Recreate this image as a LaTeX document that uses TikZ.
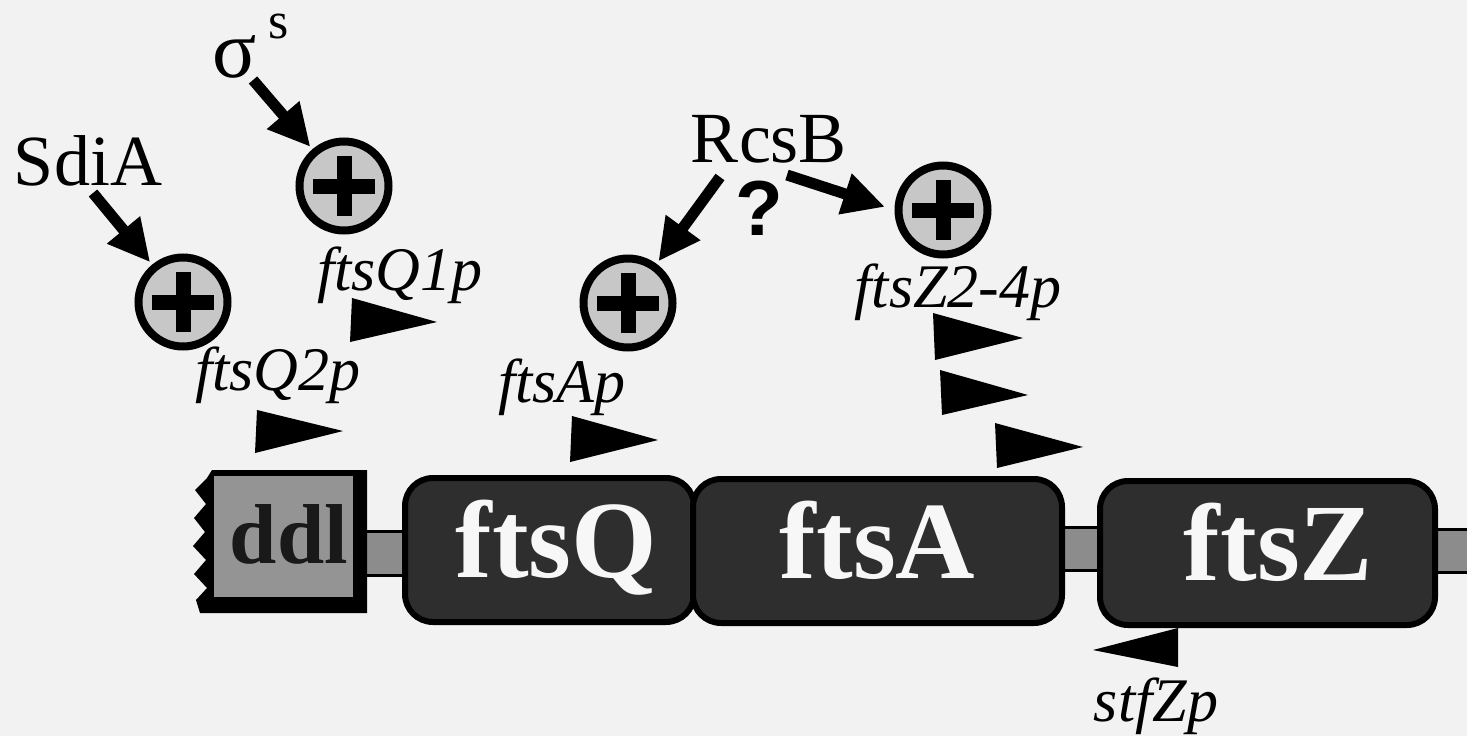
\documentclass[tikz,border=0pt]{standalone}
\usepackage{fontspec}
\setmainfont{Liberation Serif}
\newfontfamily\qsans{Liberation Sans}
\usetikzlibrary{arrows.meta}
\tikzset{
  lab/.style={font=\fontsize{72}{80}\selectfont, inner sep=0pt, anchor=base},
  prom/.style={font=\itshape\fontsize{62}{70}\selectfont, inner sep=0pt, anchor=base},
  gene/.style={draw=black, line width=6pt, fill=black!82, rounded corners=28pt,
    text=black!3, font=\bfseries\fontsize{110}{112}\selectfont,
    minimum height=144pt, text height=76pt, text depth=22pt, inner sep=0pt},
  pluscirc/.style={circle, draw=black, line width=8pt, fill=black!22,
    minimum size=89pt, inner sep=0pt},
  plusbar/.style={line width=15pt},
  act/.style={line width=11pt, -{Triangle[length=42pt,width=40pt]}},
  promtri/.style={fill=black},
  link/.style={draw=black, line width=3pt, fill=black!45},
}
\begin{document}
\begin{tikzpicture}[x=1pt,y=-1pt]
\fill[black!5] (0,0) rectangle (1467,736);
\useasboundingbox (0,0) rectangle (1467,736);
\clip (0,0) rectangle (1467,736);

% regulators
\node[lab] (sdia) at (88,185) {SdiA};
\node[lab, font=\fontsize{82}{86}\selectfont] (sigma) at (235,77) {σ};
\node[lab, font=\fontsize{52}{56}\selectfont] (sups) at (279,38) {s};
\node[lab] (rcsb) at (769,162) {RcsB};
\node[lab, font=\qsans\bfseries\fontsize{78}{80}\selectfont] (qm) at (759,235) {?};

% activation circles
\node[pluscirc] (c1) at (183,302) {};
\node[pluscirc] (c2) at (344,186) {};
\node[pluscirc] (c3) at (628,303) {};
\node[pluscirc] (c4) at (943,210) {};
\foreach \c in {c1,c2,c3,c4}{
  \draw[plusbar] ([xshift=-31pt]\c.center) -- ([xshift=31pt]\c.center);
  \draw[plusbar] ([yshift=-30pt]\c.center) -- ([yshift=30pt]\c.center);
}

% arrows
\coordinate (a1) at (93,193);
\coordinate (a2) at (253,80);
\coordinate (a3) at (720,177);
\coordinate (a4) at (787,175);
\draw[act, shorten >=3pt] (a1) -- (c1);
\draw[act, shorten >=3pt] (a2) -- (c2);
\draw[act, shorten >=3pt] (a3) -- (c3);
\draw[act, shorten >=10pt] (a4) -- (c4.west);

% promoter labels
\node[prom] (q2p) at (278,390) {ftsQ2p};
\node[prom] (q1p) at (400,290) {ftsQ1p};
\node[prom] (ap) at (562,402) {ftsAp};
\node[prom] (z24p) at (958,307) {ftsZ2-4p};
\node[prom] (stfzp) at (1156,721) {stfZp};

% promoter triangles
\fill[promtri] (257,410) -- (343,431) -- (255,453) -- cycle;
\fill[promtri] (352,298) -- (437,322) -- (350,342) -- cycle;
\fill[promtri] (572,416) -- (658,440) -- (570,462) -- cycle;
\fill[promtri] (933,313) -- (1023,338) -- (935,360) -- cycle;
\fill[promtri] (940,370) -- (1028,395) -- (942,415) -- cycle;
\fill[promtri] (995,423) -- (1083,447) -- (997,468) -- cycle;
\fill[promtri] (1178,628) -- (1093,650) -- (1178,667) -- cycle;

% linkers
\draw[link] (362,531) rectangle (410,575);
\draw[link] (1058,527) rectangle (1105,570);
\draw[link] (1430,529) rectangle (1475,572);

% ddl fragment
\fill[black] (212,470) -- (367,470) -- (367,613) -- (200,613) -- (196,600) -- (207,588)
  -- (194,574) -- (206,560) -- (193,546) -- (205,532) -- (194,518) -- (206,504)
  -- (195,490) -- (207,478) -- cycle;
\fill[black!42] (214,476) rectangle (353,597);
\node[anchor=base, inner sep=0pt, text=black!90, font=\bfseries\fontsize{85}{90}\selectfont] (ddl) at (289,563) {ddl};

% genes
\node[gene, minimum width=289pt] (ftsQ) at (549.5,550) {\hspace{14pt}ftsQ};
\node[gene, minimum width=369pt] (ftsA) at (877.5,551) {ftsA};
\node[gene, minimum width=335pt] (ftsZ) at (1267.5,553) {\hspace{22pt}ftsZ};
\end{tikzpicture}
\end{document}
